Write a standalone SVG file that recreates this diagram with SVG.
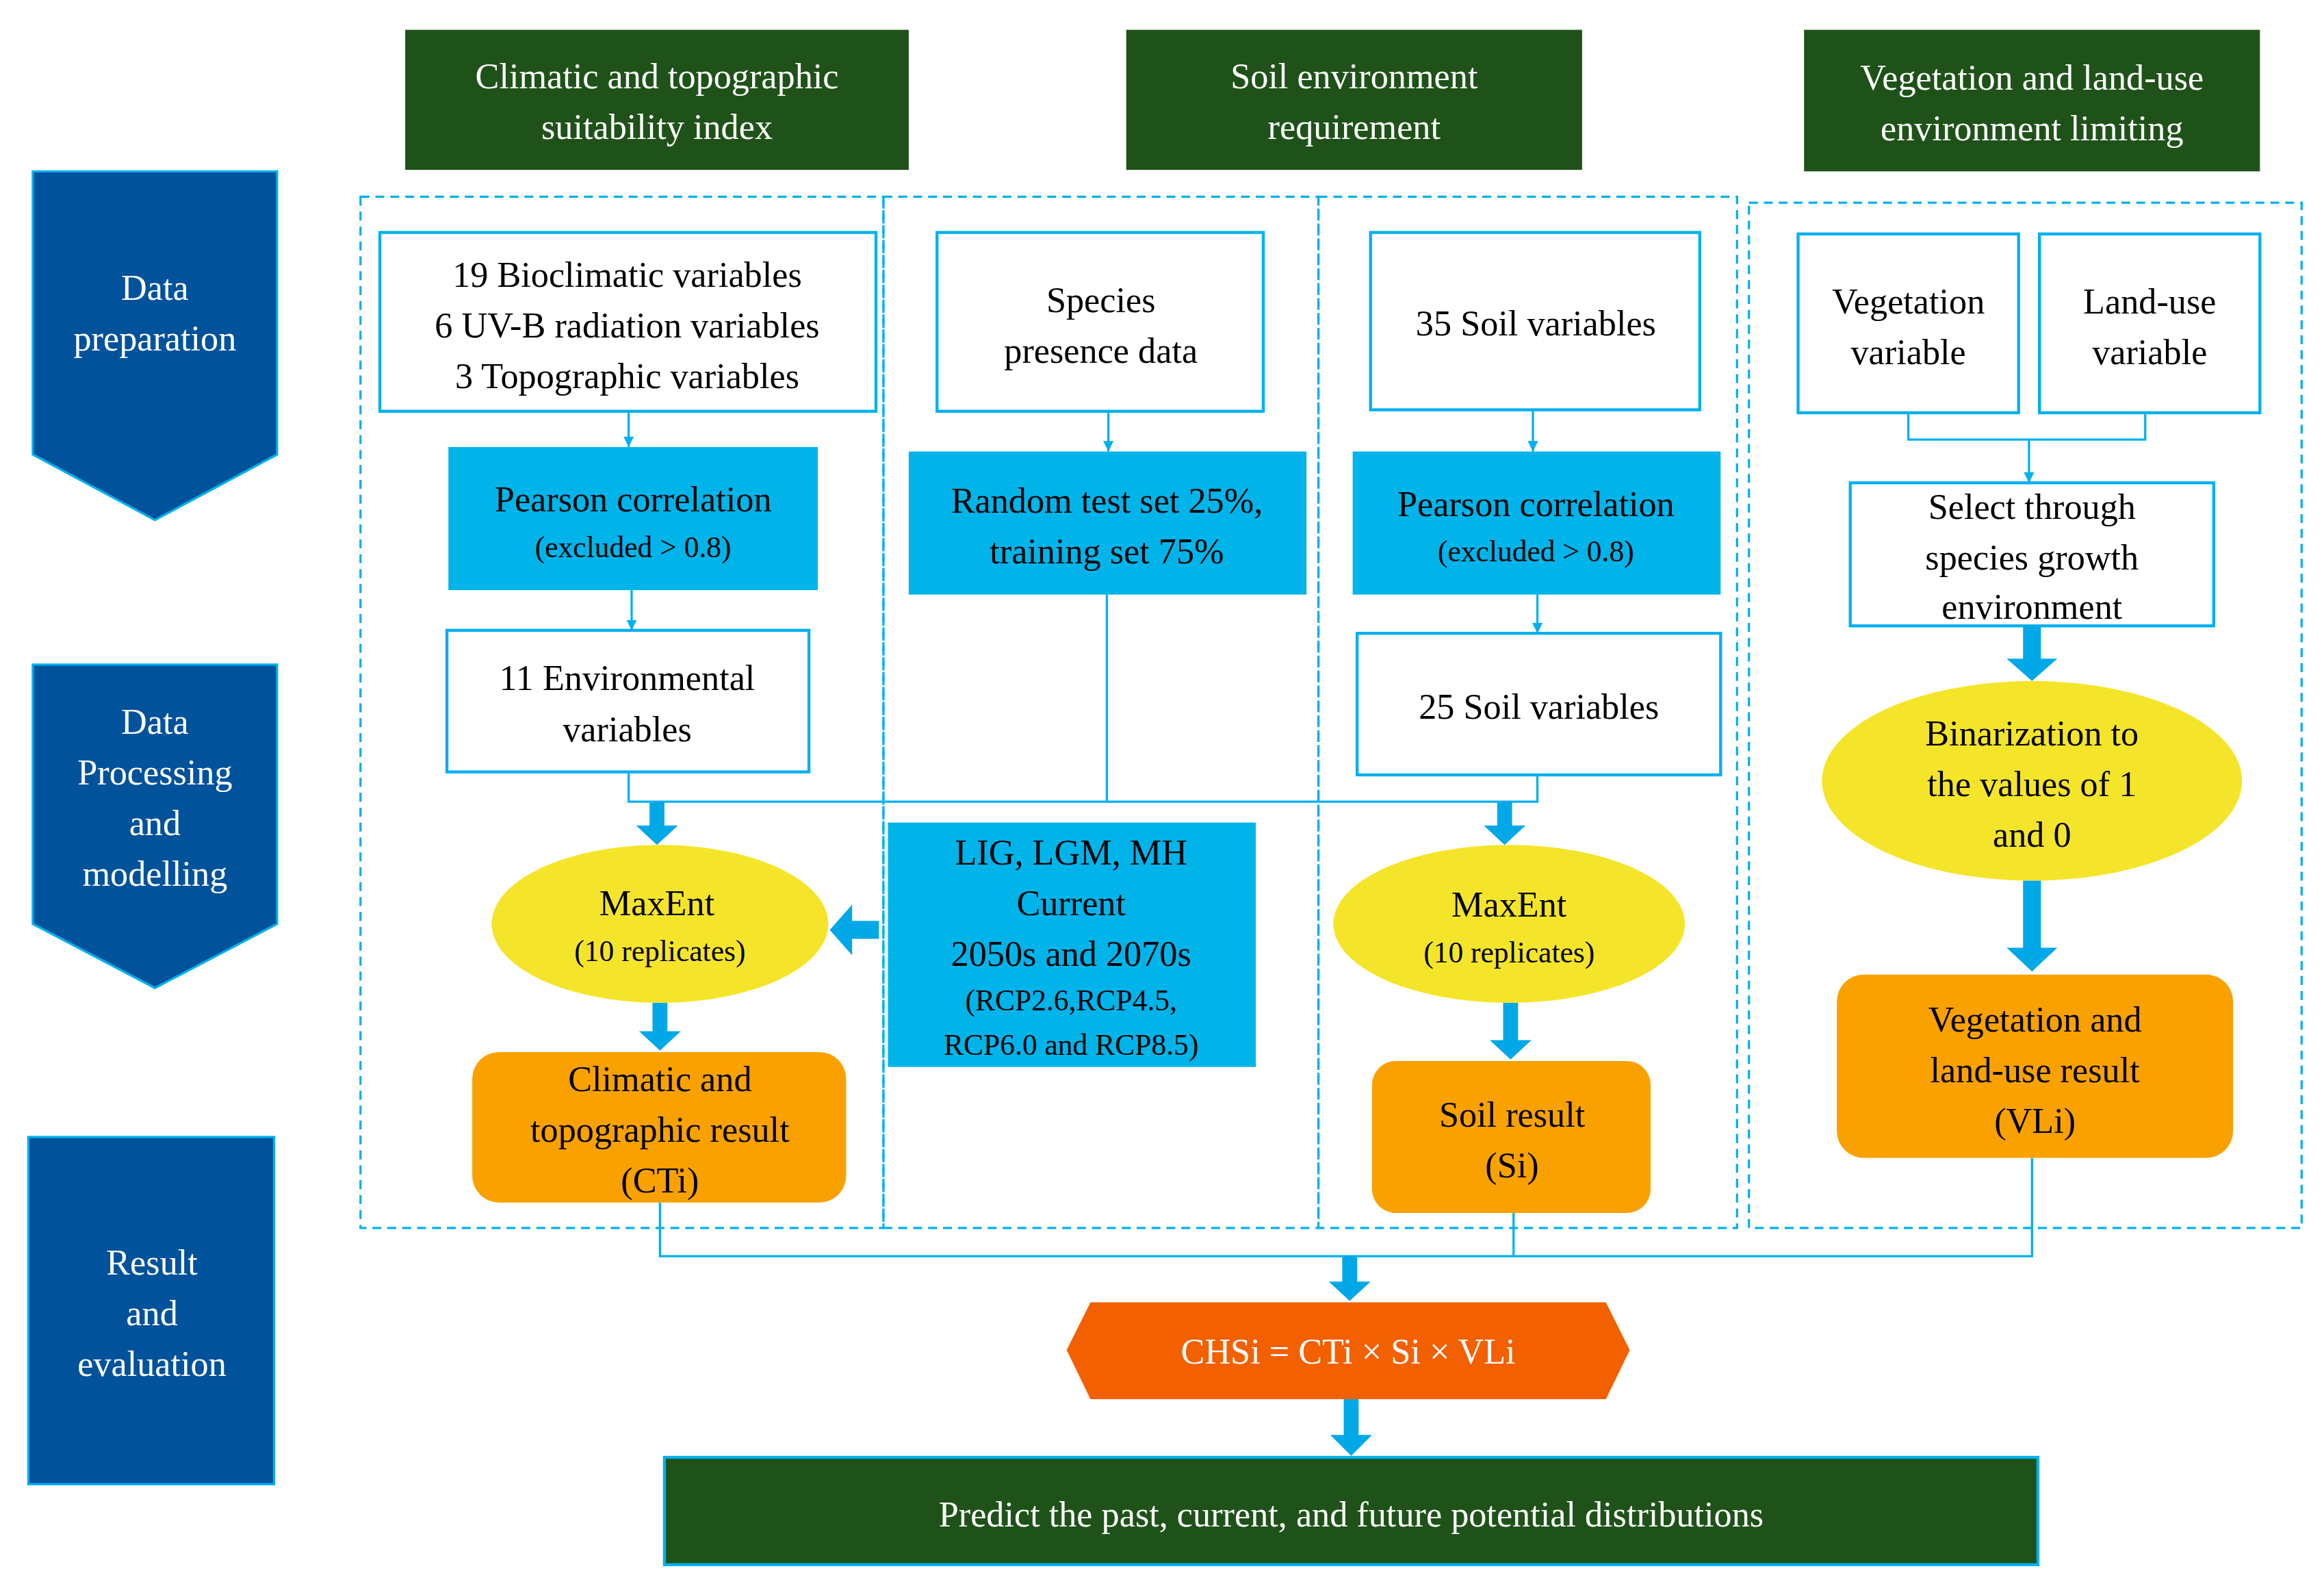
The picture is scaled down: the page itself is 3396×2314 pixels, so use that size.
<svg xmlns="http://www.w3.org/2000/svg" width="3396" height="2314" viewBox="0 0 3396 2314">
<defs>
<style>
text{font-family:"Liberation Serif","Times New Roman",serif;text-anchor:middle;dominant-baseline:central}
.hd{fill:#1f5219}
.hd text,.wt{fill:#fff}
.side{fill:#00529b;stroke:#00b0f0;stroke-width:1.5}
.wb{fill:#fff;stroke:#00b0f0;stroke-width:2}
.bb{fill:#00b4ea}
.yl{fill:#f5e52a}
.or{fill:#f9a100}
.dash{fill:none;stroke:#00b0f0;stroke-width:1.5;stroke-dasharray:6 4}
.ln{fill:none;stroke:#00b0f0;stroke-width:1.5}
.ta{fill:#00a8e8}
.t24{font-size:24px}
.t20{font-size:20px}
</style>
<marker id="ah" viewBox="0 0 10 10" refX="10" refY="5" markerWidth="7" markerHeight="7" orient="auto" markerUnits="userSpaceOnUse"><path d="M0,0L10,5L0,10z" fill="#00b0f0"/></marker>
</defs>
<rect width="3396" height="2314" fill="#fff"/>
<g transform="scale(2.1769)">
<g id="regions">
<rect class="dash" x="242" y="132" width="351" height="692"/>
<rect class="dash" x="593" y="132" width="292" height="692"/>
<rect class="dash" x="885" y="132" width="281" height="692"/>
<rect class="dash" x="1174" y="136" width="371" height="688"/>
</g>
<g id="h1" class="hd"><rect x="272" y="20" width="338" height="94"/><text class="t24" x="441" y="51">Climatic and topographic</text><text class="t24" x="441" y="85">suitability index</text></g>
<g id="h2" class="hd"><rect x="756" y="20" width="306" height="94"/><text class="t24" x="909" y="51">Soil environment</text><text class="t24" x="909" y="85">requirement</text></g>
<g id="h3" class="hd"><rect x="1211" y="20" width="306" height="95"/><text class="t24" x="1364" y="52">Vegetation and land-use</text><text class="t24" x="1364" y="86">environment limiting</text></g>
<g id="s1"><path class="side" d="M22,115H186V305L104,349L22,305Z"/><text class="t24 wt" x="104" y="193">Data</text><text class="t24 wt" x="104" y="227">preparation</text></g>
<g id="s2"><path class="side" d="M22,446H186V620L104,663L22,620Z"/><text class="t24 wt" x="104" y="484">Data</text><text class="t24 wt" x="104" y="518">Processing</text><text class="t24 wt" x="104" y="552">and</text><text class="t24 wt" x="104" y="586">modelling</text></g>
<g id="s3"><rect class="side" x="19" y="763" width="165" height="233"/><text class="t24 wt" x="102" y="847">Result</text><text class="t24 wt" x="102" y="881">and</text><text class="t24 wt" x="102" y="915">evaluation</text></g>
<g id="bio"><rect class="wb" x="255" y="156" width="333" height="120"/><text class="t24" x="421" y="184">19 Bioclimatic variables</text><text class="t24" x="421" y="218">6 UV-B radiation variables</text><text class="t24" x="421" y="252">3 Topographic variables</text></g>
<g id="pc1"><rect class="bb" x="301" y="300" width="248" height="96"/><text class="t24" x="425" y="335">Pearson correlation</text><text class="t20" x="425" y="367">(excluded &gt; 0.8)</text></g>
<g id="env11"><rect class="wb" x="300" y="423" width="243" height="95"/><text class="t24" x="421" y="455">11 Environmental</text><text class="t24" x="421" y="489">variables</text></g>
<g id="species"><rect class="wb" x="629" y="156" width="219" height="120"/><text class="t24" x="739" y="201">Species</text><text class="t24" x="739" y="235">presence data</text></g>
<g id="random"><rect class="bb" x="610" y="303" width="267" height="96"/><text class="t24" x="743" y="336">Random test set 25%,</text><text class="t24" x="743" y="370">training set 75%</text></g>
<g id="soil35"><rect class="wb" x="920" y="156" width="221" height="119"/><text class="t24" x="1031" y="217">35 Soil variables</text></g>
<g id="pc2"><rect class="bb" x="908" y="303" width="247" height="96"/><text class="t24" x="1031" y="338">Pearson correlation</text><text class="t20" x="1031" y="370">(excluded &gt; 0.8)</text></g>
<g id="soil25"><rect class="wb" x="911" y="425" width="244" height="95"/><text class="t24" x="1033" y="474">25 Soil variables</text></g>
<g id="veg"><rect class="wb" x="1207" y="157" width="148" height="120"/><text class="t24" x="1281" y="202">Vegetation</text><text class="t24" x="1281" y="236">variable</text></g>
<g id="land"><rect class="wb" x="1369" y="157" width="148" height="120"/><text class="t24" x="1443" y="202">Land-use</text><text class="t24" x="1443" y="236">variable</text></g>
<g id="select"><rect class="wb" x="1242" y="324" width="244" height="96"/><text class="t24" x="1364" y="340">Select through</text><text class="t24" x="1364" y="374">species growth</text><text class="t24" x="1364" y="407">environment</text></g>
<g id="bin"><ellipse class="yl" cx="1364" cy="524" rx="141" ry="67"/><text class="t24" x="1364" y="492">Binarization to</text><text class="t24" x="1364" y="526">the values of 1</text><text class="t24" x="1364" y="560">and 0</text></g>
<g id="vlres"><rect class="or" x="1233" y="654" width="266" height="123" rx="18"/><text class="t24" x="1366" y="684">Vegetation and</text><text class="t24" x="1366" y="718">land-use result</text><text class="t24" x="1366" y="752">(VLi)</text></g>
<g id="maxent1"><ellipse class="yl" cx="443" cy="620" rx="113" ry="53"/><text class="t24" x="441" y="606">MaxEnt</text><text class="t20" x="443" y="638">(10 replicates)</text></g>
<g id="maxent2"><ellipse class="yl" cx="1013" cy="620" rx="118" ry="53"/><text class="t24" x="1013" y="607">MaxEnt</text><text class="t20" x="1013" y="639">(10 replicates)</text></g>
<g id="lig"><rect class="bb" x="596" y="552" width="247" height="164"/><text class="t24" x="719" y="572">LIG, LGM, MH</text><text class="t24" x="719" y="606">Current</text><text class="t24" x="719" y="640">2050s and 2070s</text><text class="t20" x="719" y="671">(RCP2.6,RCP4.5,</text><text class="t20" x="719" y="701">RCP6.0 and RCP8.5)</text></g>
<g id="ctres"><rect class="or" x="317" y="706" width="251" height="101" rx="18"/><text class="t24" x="443" y="724">Climatic and</text><text class="t24" x="443" y="758">topographic result</text><text class="t24" x="443" y="792">(CTi)</text></g>
<g id="sres"><rect class="or" x="921" y="712" width="187" height="102" rx="16"/><text class="t24" x="1015" y="748">Soil result</text><text class="t24" x="1015" y="782">(Si)</text></g>
<g id="chs"><path d="M716,906L732,874H1078L1094,906L1078,939H732Z" fill="#f26000"/><text class="t24 wt" x="905" y="907">CHSi = CTi × Si × VLi</text></g>
<g id="predict"><rect x="446" y="978" width="922" height="72" fill="#1f5219" stroke="#00b0f0" stroke-width="2"/><text class="t24 wt" x="907" y="1016">Predict the past, current, and future potential distributions</text></g>
<g id="connectors">
<path class="ln" marker-end="url(#ah)" d="M422,276V300"/>
<path class="ln" marker-end="url(#ah)" d="M424,396V423"/>
<path class="ln" marker-end="url(#ah)" d="M744,276V303"/>
<path class="ln" marker-end="url(#ah)" d="M1029,275V303"/>
<path class="ln" marker-end="url(#ah)" d="M1032,399V425"/>
<path class="ln" d="M1281,277V295H1440V277"/>
<path class="ln" marker-end="url(#ah)" d="M1362,295V324"/>
<path class="ln" d="M422,518V538H1032V520M743,399V538"/>
<path class="ln" d="M443,807V843H1364V777M1016,814V843"/>
<path class="ta" d="M436,538h10v16h9l-14,13l-14,-13h9z"/>
<path class="ta" d="M1005,538h10v16h9l-14,13l-14,-13h9z"/>
<path class="ta" d="M438,673h10v19h9l-14,13l-14,-13h9z"/>
<path class="ta" d="M1009,673h10v25h9l-14,13l-14,-13h9z"/>
<path class="ta" d="M1358,420h12v22h11l-17,15l-17,-15h11z"/>
<path class="ta" d="M1358,591h12v45h11l-17,16l-17,-16h11z"/>
<path class="ta" d="M590,618v12h-18v11l-15,-17l15,-17v11z"/>
<path class="ta" d="M901,843h10v17h9l-14,13l-14,-13h9z"/>
<path class="ta" d="M902,939h10v24h9l-14,14l-14,-14h9z"/>
</g>
</g>
</svg>
